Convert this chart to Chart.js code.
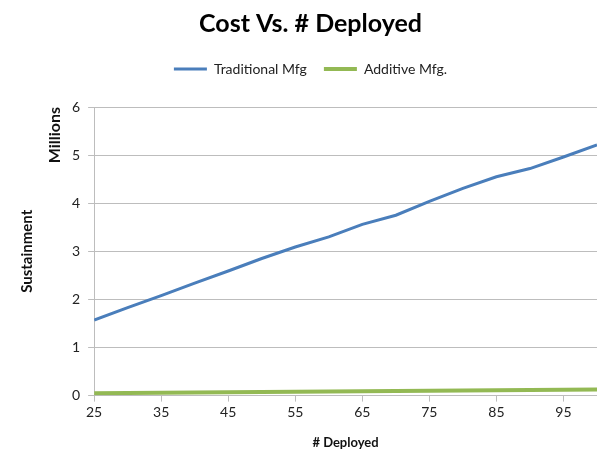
<!DOCTYPE html>
<html>
<head>
<meta charset="utf-8">
<script src="https://cdn.jsdelivr.net/npm/chart.js@4"></script>
<style>
  html, body { margin: 0; padding: 0; background: #ffffff; }
  #wrap { width: 597px; height: 451px; }
</style>
</head>
<body>
<div id="wrap"><canvas id="c" width="597" height="451"></canvas></div>
<script>
// Units deployed (every 5), sustainment cost in millions
const deployed = [25, 30, 35, 40, 45, 50, 55, 60, 65, 70, 75, 80, 85, 90, 95, 100];
const traditionalMfg = [1.57, 1.83, 2.08, 2.34, 2.59, 2.85, 3.09, 3.30, 3.56, 3.75, 4.04, 4.31, 4.55, 4.72, 4.96, 5.21];
const additiveMfg = [0.05, 0.055, 0.06, 0.065, 0.07, 0.075, 0.08, 0.085, 0.09, 0.095, 0.10, 0.105, 0.11, 0.115, 0.12, 0.125];
const xTickLabels = [25, 35, 45, 55, 65, 75, 85, 95];
const yTickLabels = [0, 1, 2, 3, 4, 5, 6];

const FONT = 'Lato, "Open Sans", sans-serif';
const GRID = '#bdbdbd';

const toPoints = (ys) => deployed.map((x, i) => ({ x: x, y: ys[i] }));

// Extra room under the legend, and a small rightward nudge of the header blocks
const headerSpacing = {
  id: 'headerSpacing',
  beforeLayout(chart) {
    const lg = chart.legend;
    if (lg && !lg._spaced) {
      const fit = lg.fit;
      lg.fit = function () {
        fit.call(this);
        this.height += 21;
      };
      lg._spaced = true;
    }
  },
  afterLayout(chart) {
    [chart.titleBlock, chart.legend].forEach(b => {
      if (b) { b.left += 6; b.right += 6; }
    });
  }
};

// "Millions" display-unit caption beside the value axis
const unitsCaption = {
  id: 'unitsCaption',
  afterDraw(chart) {
    const ctx = chart.ctx;
    const top = chart.chartArea.top;
    ctx.save();
    ctx.translate(55, top);
    ctx.rotate(-Math.PI / 2);
    ctx.font = 'bold 16px ' + FONT;
    ctx.fillStyle = '#111';
    ctx.textAlign = 'right';
    ctx.textBaseline = 'middle';
    ctx.fillText('Millions', 0, 0);
    ctx.restore();
  }
};

new Chart(document.getElementById('c'), {
  type: 'line',
  data: {
    datasets: [
      {
        label: 'Traditional Mfg',
        data: toPoints(traditionalMfg),
        borderColor: '#4a7ebb',
        backgroundColor: '#4a7ebb',
        borderWidth: 3,
        pointRadius: 0,
        tension: 0
      },
      {
        label: 'Additive Mfg.',
        data: toPoints(additiveMfg),
        borderColor: '#93b954',
        backgroundColor: '#93b954',
        borderWidth: 4,
        pointRadius: 0,
        tension: 0
      }
    ]
  },
  plugins: [headerSpacing, unitsCaption],
  options: {
    responsive: false,
    animation: false,
    layout: { padding: { left: 12, right: 0, top: 0, bottom: 0 } },
    plugins: {
      title: {
        display: true,
        text: 'Cost Vs. # Deployed',
        color: '#000',
        font: { family: FONT, size: 25, weight: 'bold' },
        padding: { top: 9, bottom: 6 }
      },
      legend: {
        display: true,
        labels: {
          usePointStyle: true,
          pointStyle: 'line',
          pointStyleWidth: 33,
          boxHeight: 3,
          padding: 17,
          color: '#222',
          font: { family: FONT, size: 14 }
        }
      },
      tooltip: { enabled: false }
    },
    scales: {
      x: {
        type: 'linear',
        min: 25,
        max: 100,
        afterBuildTicks(scale) {
          scale.ticks = xTickLabels.map(v => ({ value: v }));
        },
        grid: {
          display: true,
          drawOnChartArea: false,
          drawTicks: true,
          tickLength: 6,
          tickColor: GRID
        },
        border: { display: true, color: GRID, width: 1 },
        ticks: {
          color: '#222',
          font: { family: FONT, size: 14 },
          padding: 2,
          maxRotation: 0,
          autoSkip: false
        },
        title: {
          display: true,
          text: '# Deployed',
          color: '#111',
          font: { family: FONT, size: 13, weight: 'bold' },
          padding: { top: 13, bottom: 0 }
        }
      },
      y: {
        min: 0,
        max: 6,
        afterBuildTicks(scale) {
          scale.ticks = yTickLabels.map(v => ({ value: v }));
        },
        grid: {
          color: GRID,
          lineWidth: 1,
          drawTicks: true,
          tickLength: 6,
          tickColor: GRID
        },
        border: { display: true, color: GRID, width: 1 },
        ticks: {
          color: '#222',
          font: { family: FONT, size: 14 },
          padding: 8
        },
        title: {
          display: true,
          text: 'Sustainment',
          color: '#111',
          font: { family: FONT, size: 15, weight: 'bold' },
          padding: { top: 6, bottom: 28 }
        }
      }
    }
  }
});
</script>
</body>
</html>
